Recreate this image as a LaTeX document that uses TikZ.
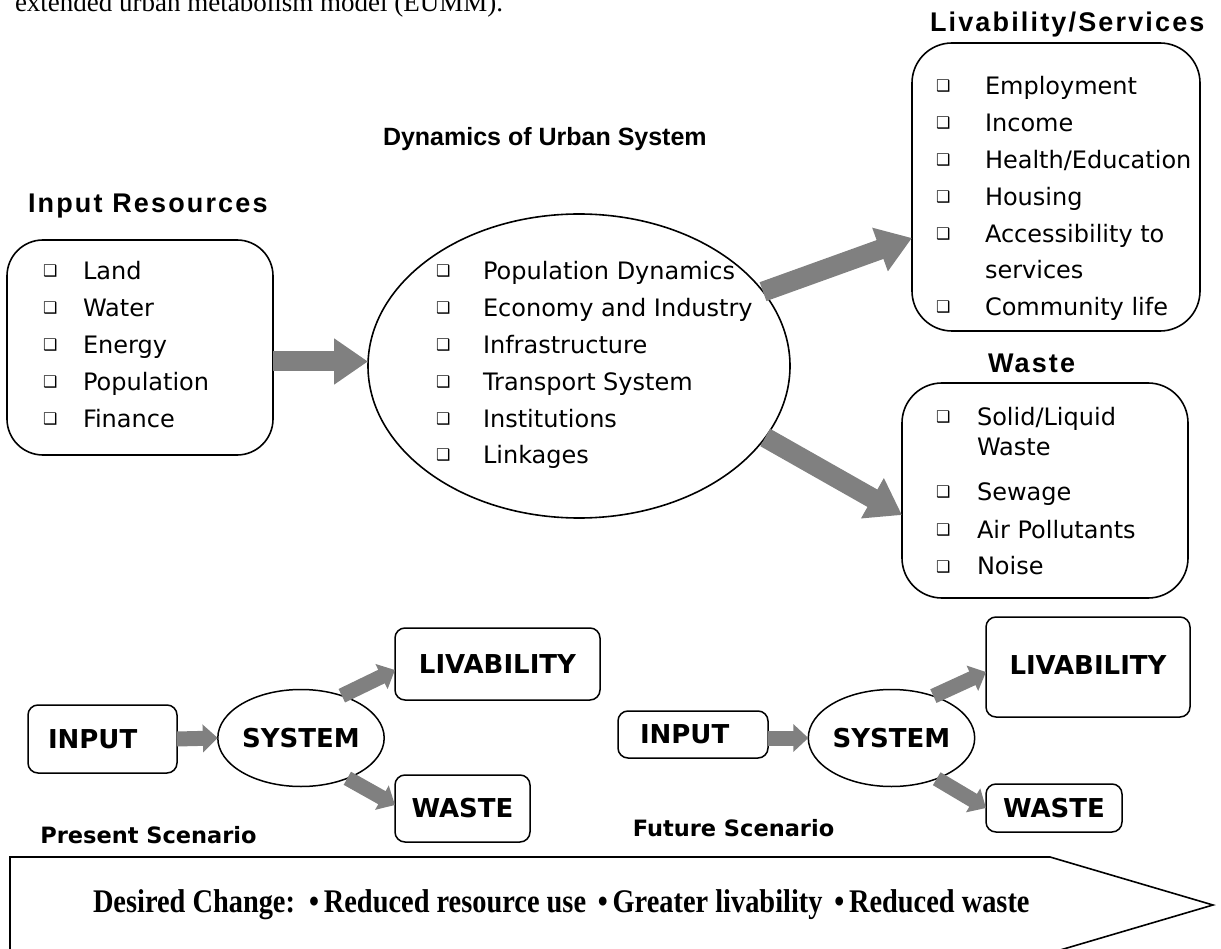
\documentclass[tikz,border=0pt]{standalone}
\usepackage{fontspec}
\setmainfont{DejaVu Sans}
\newfontfamily\comic{DejaVu Sans}
\newfontfamily\headfont{Liberation Sans}[LetterSpace=8]
\newfontfamily\headfontn{Liberation Sans}
\newfontfamily\tnr{Liberation Serif}
\usetikzlibrary{arrows.meta,shapes.geometric}
\definecolor{arrowgray}{HTML}{808080}
\newcommand\cbx{\raisebox{3pt}{\fontsize{16}{16}\selectfont ❑}}
\begin{document}
\begin{tikzpicture}[x=1pt,y=-1pt,
  every node/.style={inner sep=0pt, outer sep=0pt},
  bigbox/.style={draw, line width=1.6pt, rounded corners=36pt},
  smallbox/.style={draw, line width=1.5pt, rounded corners=10pt, font=\comic\bfseries\fontsize{26}{30}\selectfont},
  bigell/.style={draw, ellipse, line width=1.6pt},
  smallell/.style={draw, ellipse, line width=1.5pt, font=\comic\bfseries\fontsize{26}{30}\selectfont},
  bigarrow/.style={draw=arrowgray, line width=20pt, -{Triangle[length=34pt,width=44pt]}},
  smallarrow/.style={draw=arrowgray, line width=15pt, -{Triangle[length=15pt,width=27pt]}},
  ttl/.style={anchor=base west, font=\headfont\bfseries\fontsize{27}{32}\selectfont},
  listtxt/.style={anchor=base west, font=\comic\fontsize{24}{36.8}\selectfont},
  scen/.style={font=\comic\bfseries\fontsize{22.5}{27}\selectfont}
]
\useasboundingbox (0,0) rectangle (1221,949);
\clip (0,0) rectangle (1221,949);

% cut-off text at top
\node[anchor=base west, font=\tnr\fontsize{27}{32}\selectfont] (toptext) at (15,12) {extended urban metabolism model (EUMM).};

% titles
\node[ttl] (tin) at (28,213) {Input Resources};
\node[ttl, font=\headfontn\bfseries\fontsize{25}{30}\selectfont] (tdyn) at (383,146) {Dynamics of Urban System};
\node[ttl] (tliv) at (930,32) {Livability/Services};
\node[ttl] (twaste) at (988,373) {Waste};

% main shapes
\node[bigbox, minimum width=266pt, minimum height=215pt] (inbox) at (140,347.5) {};
\node[bigell, minimum width=422pt, minimum height=304pt] (sys) at (579,366) {};
\node[bigbox, rounded corners=40pt, minimum width=288pt, minimum height=288pt] (livbox) at (1056,187) {};
\node[bigbox, rounded corners=40pt, minimum width=286pt, minimum height=215pt] (wastebox) at (1045,490.5) {};

% lists
\node[listtxt] (inlist) at (43,280) {\begin{tabular}[t]{@{}p{40pt}@{}l@{}}
\cbx & Land\\ \cbx & Water\\ \cbx & Energy\\ \cbx & Population\\ \cbx & Finance
\end{tabular}};
\node[listtxt] (syslist) at (436,280) {\begin{tabular}[t]{@{}p{47pt}@{}l@{}}
\cbx & Population Dynamics\\ \cbx & Economy and Industry\\ \cbx & Infrastructure\\
\cbx & Transport System\\ \cbx & Institutions\\ \cbx & Linkages
\end{tabular}};
\node[listtxt] (livlist) at (936,95) {\begin{tabular}[t]{@{}p{49pt}@{}l@{}}
\cbx & Employment\\ \cbx & Income\\ \cbx & Health/Education\\ \cbx & Housing\\
\cbx & Accessibility to\\ & services\\ \cbx & Community life
\end{tabular}};
\node[anchor=base west, font=\comic\fontsize{24}{29}\selectfont] (wastelist) at (936,426) {\begin{tabular}[t]{@{}p{41pt}@{}l@{}}
\cbx & Solid/Liquid\\ & Waste\\[16pt] \cbx & Sewage\\[9pt] \cbx & Air Pollutants\\[8pt] \cbx & Noise
\end{tabular}};

% main arrows
\draw[bigarrow] ([yshift=-14pt]inbox.east) -- ([yshift=4.5pt]sys.west);
\draw[bigarrow] (sys.22) -- ([yshift=-51pt]livbox.west);
\draw[bigarrow] (sys.-21) -- ([yshift=-24.5pt]wastebox.west);

% present scenario
\node[smallbox, minimum height=68pt, text width=109pt, inner xsep=20pt, align=left] (pin) at (102.5,739) {INPUT};
\node[smallell, minimum width=148pt, minimum height=97pt] (psys) at (301,738) {SYSTEM};
\node[smallbox, minimum width=205pt, minimum height=72pt] (pliv) at (497.5,664) {LIVABILITY};
\node[smallbox, minimum width=135pt, minimum height=67pt] (pwaste) at (462.5,808.5) {WASTE};
\node[scen] (pscen) at (148.5,835) {Present Scenario};
\draw[smallarrow] (pin.east) -- (psys.west);
\draw[smallarrow] (psys.46) -- ([yshift=-6pt]pliv.west);
\draw[smallarrow] (psys.-41) -- ([yshift=3.5pt]pwaste.west);

% future scenario
\node[smallbox, minimum height=47pt, text width=106pt, inner xsep=22pt, align=left] (fin) at (693,734.5) {INPUT};
\node[smallell, minimum width=147pt, minimum height=97pt] (fsys) at (891.5,738) {SYSTEM};
\node[smallbox, minimum width=204pt, minimum height=100pt] (fliv) at (1088,667) {\raisebox{4pt}{LIVABILITY}};
\node[smallbox, minimum width=136pt, minimum height=48pt] (fwaste) at (1054,808) {WASTE};
\node[scen] (fscen) at (733.5,828) {Future Scenario};
\draw[smallarrow] ([yshift=-3.5pt]fin.east) -- (fsys.west);
\draw[smallarrow] (fsys.45) -- ([yshift=-5pt]fliv.west);
\draw[smallarrow] (fsys.-42) -- (fwaste.west);

% desired change arrow
\draw[line width=1.6pt, line join=miter] (10,960) -- (10,857) -- (1050,857) -- (1213,905) -- (1050,953) -- (10,953);
\node[anchor=west, font=\tnr\bfseries\fontsize{33}{38}\selectfont] (change) at (93,905)
  {\scalebox{0.86}[1]{Desired Change: \,•\,Reduced resource use \,•\,Greater livability \,•\,Reduced waste}};
\end{tikzpicture}
\end{document}
